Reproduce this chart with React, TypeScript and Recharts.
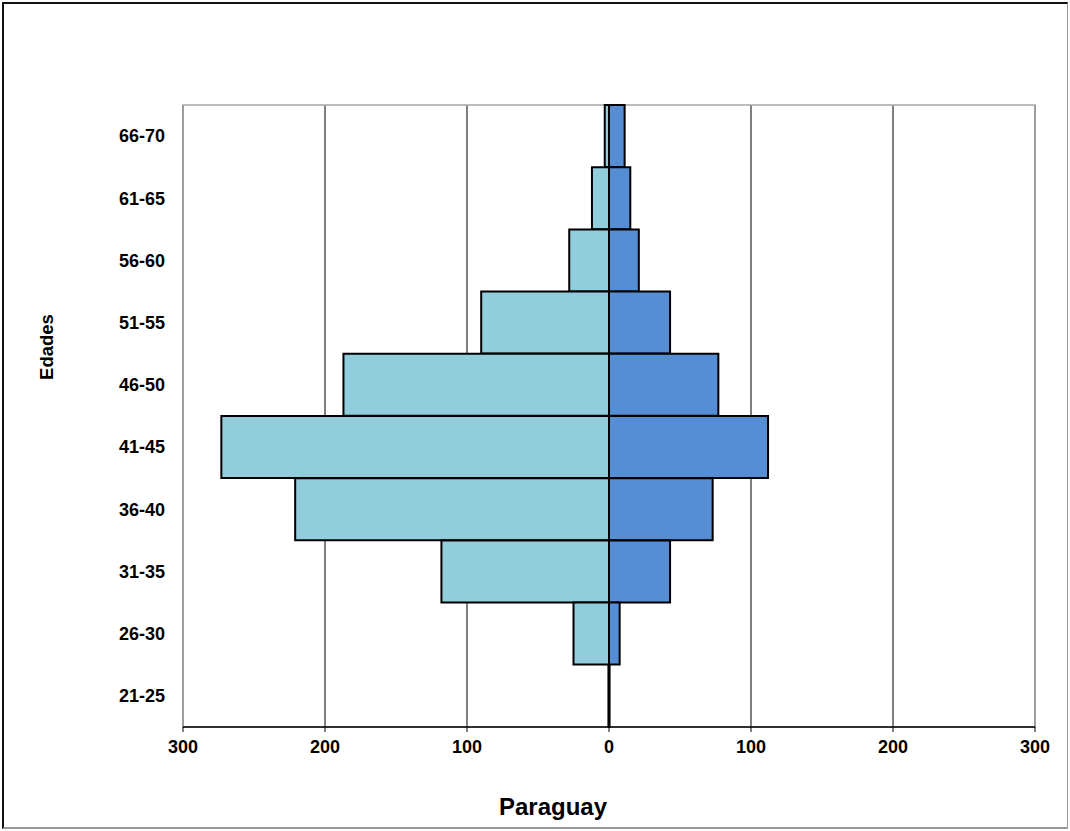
import React from 'react';
import { BarChart, Bar, XAxis, YAxis, CartesianGrid, ReferenceArea } from 'recharts';

const ageGroups = ['66-70', '61-65', '56-60', '51-55', '46-50', '41-45', '36-40', '31-35', '26-30', '21-25'];
const leftValues = [3, 12, 28, 90, 187, 273, 221, 118, 25, 0.4];
const rightValues = [11, 15, 21, 43, 77, 112, 73, 43, 7.5, 0.4];
const xTicks = [-300, -200, -100, 0, 100, 200, 300];
const chartTitle = 'Paraguay';
const yTitle = 'Edades';

const data = ageGroups.map((g, i) => ({ group: g, left: -leftValues[i], right: rightValues[i] }));

const FONT = 'Arial, "Liberation Sans", sans-serif';

export default function App() {
  return (
    <div style={{ position: 'absolute', left: 0, top: 0, width: 1070, height: 831, background: '#fff' }}>
      <div
        style={{
          position: 'absolute',
          left: 2,
          top: 2,
          width: 1066,
          height: 827,
          boxSizing: 'border-box',
          borderLeft: '2px solid #111',
          borderTop: '2px solid #111',
          borderRight: '1px solid #999',
          borderBottom: '2px solid #999',
        }}
      />
      <div style={{ position: 'absolute', left: 0, top: 0 }}>
        <BarChart
          width={1070}
          height={831}
          data={data}
          layout="vertical"
          stackOffset="sign"
          barCategoryGap={0}
          barGap={0}
          margin={{ top: 105, right: 35, bottom: 74, left: 93 }}
        >
          <CartesianGrid horizontal={false} vertical={true} stroke="#000" strokeWidth={1} />
          <ReferenceArea x1={-300} x2={300} fill="none" stroke="#a6a6a6" strokeWidth={1.5} ifOverflow="visible" />
          <XAxis
            type="number"
            domain={[-300, 300]}
            ticks={xTicks}
            tickFormatter={(v: number) => String(Math.abs(v))}
            axisLine={{ stroke: '#000', strokeWidth: 1.5 }}
            tickLine={{ stroke: '#000', strokeWidth: 1 }}
            tickSize={5}
            tickMargin={8}
            height={30}
            tick={{ fill: '#000', fontSize: 18, fontWeight: 'bold', fontFamily: FONT }}
            label={{
              content: () => (
                <text
                  x={553}
                  y={815}
                  textAnchor="middle"
                  fontSize={24}
                  fontWeight="bold"
                  fontFamily={FONT}
                  fill="#000"
                >
                  {chartTitle}
                </text>
              ),
            }}
          />
          <YAxis
            type="category"
            dataKey="group"
            width={90}
            axisLine={false}
            tickLine={false}
            tickSize={0}
            tickMargin={18}
            tick={{ fill: '#000', fontSize: 18, fontWeight: 'bold', fontFamily: FONT }}
            label={{
              content: () => (
                <text
                  x={53}
                  y={347}
                  transform="rotate(-90 53 347)"
                  textAnchor="middle"
                  fontSize={18.5}
                  fontWeight="bold"
                  fontFamily={FONT}
                  fill="#000"
                >
                  {yTitle}
                </text>
              ),
            }}
          />
          <Bar dataKey="left" stackId="a" fill="#92CDDC" stroke="#000" strokeWidth={2} isAnimationActive={false} />
          <Bar dataKey="right" stackId="a" fill="#558ED5" stroke="#000" strokeWidth={2} isAnimationActive={false} />
        </BarChart>
      </div>
    </div>
  );
}
